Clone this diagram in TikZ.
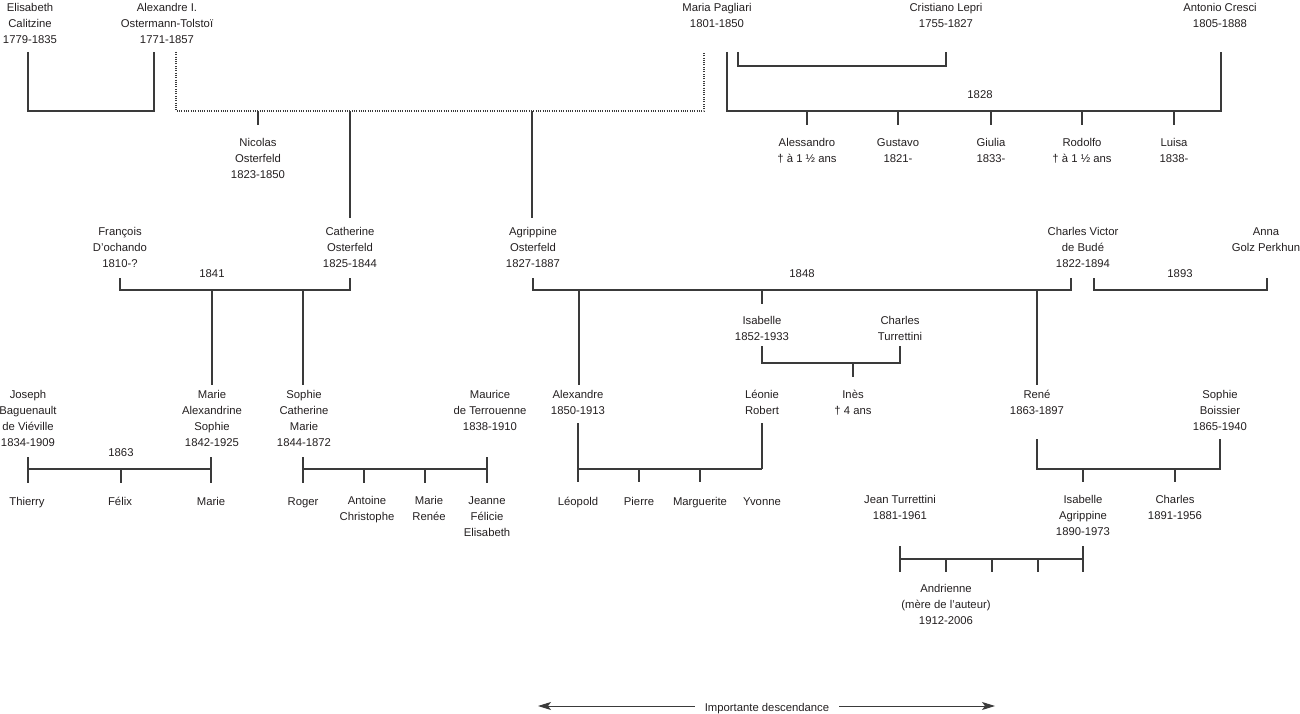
\documentclass[tikz,border=0pt]{standalone}
\usepackage{fontspec}
\setmainfont{Liberation Sans}
\usetikzlibrary{arrows.meta}
\definecolor{txt}{HTML}{231F20}
\definecolor{lnc}{HTML}{3A3A3A}
\begin{document}
\begin{tikzpicture}[x=1pt,y=-1pt,
  lbl/.style={align=center,inner sep=0pt,text=txt,font=\fontsize{11.3}{16}\selectfont,
    execute at begin node=\strut, execute at end node=\strut, yshift=-2.7pt},
  ln/.style={draw=lnc,line width=1.2pt},
  dln/.style={draw=lnc,line width=1.2pt,dash pattern=on 1pt off 1.3pt}]
\useasboundingbox (0,0) rectangle (1300,714);
% ---------- top row
\node[lbl] (elis) at (30,23) {Elisabeth\\Calitzine\\1779-1835};
\node[lbl] (alex) at (167,23) {Alexandre I.\\Ostermann-Tolstoï\\1771-1857};
\node[lbl] (maria) at (717,15) {Maria Pagliari\\1801-1850};
\node[lbl] (lepri) at (946,15) {Cristiano Lepri\\1755-1827};
\node[lbl] (cresci) at (1220,15) {Antonio Cresci\\1805-1888};
\coordinate (eA) at (28,52); \coordinate (eB) at (154,52);
\draw[ln] (eA) -- ++(0,59) -| (eB);
\coordinate (dA) at (176,52); \coordinate (dB) at (704,52);
\draw[dln] (dA) -- ++(0,59) -| (dB);
\coordinate (nicT) at (258,111);
\node[lbl] (nic) at (258,158) {Nicolas\\Osterfeld\\1823-1850};
\draw[ln] (nicT) -- ++(0,14);
\coordinate (lA) at (738,52); \coordinate (lB) at (946,52);
\draw[ln] (lA) -- ++(0,14) -| (lB);
\coordinate (cA) at (727,52); \coordinate (cB) at (1221,52);
\draw[ln] (cA) -- ++(0,59) -| (cB);
\node[lbl] (y1828) at (980,93) {1828};
\node[lbl] (ales) at (807,150) {Alessandro\\† à 1 ½ ans};
\node[lbl] (gust) at (898,150) {Gustavo\\1821-};
\node[lbl] (giul) at (991,150) {Giulia\\1833-};
\node[lbl] (rodo) at (1082,150) {Rodolfo\\† à 1 ½ ans};
\node[lbl] (luisa) at (1174,150) {Luisa\\1838-};
\foreach \x in {807,898,991,1082,1174} \draw[ln] (\x,111) -- (\x,125);
% ---------- second row
\node[lbl] (fran) at (120,247) {François\\D’ochando\\1810-?};
\node[lbl] (cath) at (350,247) {Catherine\\Osterfeld\\1825-1844};
\node[lbl] (agri) at (533,247) {Agrippine\\Osterfeld\\1827-1887};
\node[lbl] (bude) at (1083,247) {Charles Victor\\de Budé\\1822-1894};
\node[lbl] (anna) at (1266,239) {Anna\\Golz Perkhun};
\coordinate (cathT) at (350,111); \coordinate (cathB) at (350,218);
\draw[ln] (cathT) -- (cathB);
\coordinate (agriT) at (532,111); \coordinate (agriB) at (532,218);
\draw[ln] (agriT) -- (agriB);
\node[lbl] (y1841) at (212,272) {1841};
\node[lbl] (y1848) at (802,272) {1848};
\node[lbl] (y1893) at (1180,272) {1893};
\coordinate (fA) at (120,278); \coordinate (fB) at (350,278);
\draw[ln] (fA) -- ++(0,12) -| (fB);
\coordinate (aA) at (533,278); \coordinate (aB) at (1071,278);
\draw[ln] (aA) -- ++(0,12) -| (aB);
\coordinate (bA) at (1094,278); \coordinate (bB) at (1267,278);
\draw[ln] (bA) -- ++(0,12) -| (bB);
\draw[ln] (212,290) -- (212,385);
\draw[ln] (303,290) -- (303,385);
\draw[ln] (579,290) -- (579,385);
\draw[ln] (762,290) -- (762,304);
\draw[ln] (1037,290) -- (1037,385);
\node[lbl] (isab) at (762,328) {Isabelle\\1852-1933};
\node[lbl] (chtu) at (900,328) {Charles\\Turrettini};
\coordinate (iA) at (762,346); \coordinate (iB) at (900,346);
\draw[ln] (iA) -- ++(0,17) -| (iB);
\draw[ln] (853,363) -- (853,377);
\node[lbl] (ines) at (853,402) {Inès\\† 4 ans};
% ---------- third row
\node[lbl] (jose) at (28,418) {Joseph\\Baguenault\\de Viéville\\1834-1909};
\node[lbl] (marA) at (212,418) {Marie\\Alexandrine\\Sophie\\1842-1925};
\node[lbl] (sopC) at (304,418) {Sophie\\Catherine\\Marie\\1844-1872};
\node[lbl] (maur) at (490,410) {Maurice\\de Terrouenne\\1838-1910};
\node[lbl] (alx2) at (578,402) {Alexandre\\1850-1913};
\node[lbl] (leon) at (762,402) {Léonie\\Robert};
\node[lbl] (rene) at (1037,402) {René\\1863-1897};
\node[lbl] (sopB) at (1220,410) {Sophie\\Boissier\\1865-1940};
\node[lbl] (y1863) at (121,451) {1863};
% Joseph - Marie
\draw[ln] (28,457) -- (28,483);
\draw[ln] (211,457) -- (211,483);
\draw[ln] (28,469) -- (211,469);
\draw[ln] (121,469) -- (121,483);
% Sophie - Maurice
\draw[ln] (303,457) -- (303,483);
\draw[ln] (487,457) -- (487,483);
\draw[ln] (303,469) -- (487,469);
\draw[ln] (364,469) -- (364,483);
\draw[ln] (425,469) -- (425,483);
% Alexandre - Leonie
\draw[ln] (578,423) -- (578,482);
\draw[ln] (762,423) -- (762,469);
\draw[ln] (578,469) -- (762,469);
\draw[ln] (639,469) -- (639,482);
\draw[ln] (700,469) -- (700,482);
% Rene - Sophie
\draw[ln] (1037,439) -- (1037,469) -- (1220,469) -- (1220,439);
\draw[ln] (1083,469) -- (1083,482);
\draw[ln] (1175,469) -- (1175,482);
% names
\node[lbl] (thie) at (27,500) {Thierry};
\node[lbl] (feli) at (120,500) {Félix};
\node[lbl] (mari) at (211,500) {Marie};
\node[lbl] (roge) at (303,500) {Roger};
\node[lbl] (anto) at (367,508) {Antoine\\Christophe};
\node[lbl] (mren) at (429,508) {Marie\\Renée};
\node[lbl] (jean) at (487,516) {Jeanne\\Félicie\\Elisabeth};
\node[lbl] (leop) at (578,500) {Léopold};
\node[lbl] (pier) at (639,500) {Pierre};
\node[lbl] (marg) at (700,500) {Marguerite};
\node[lbl] (yvon) at (762,500) {Yvonne};
\node[lbl] (jetu) at (900,507) {Jean Turrettini\\1881-1961};
\node[lbl] (isaA) at (1083,515) {Isabelle\\Agrippine\\1890-1973};
\node[lbl] (char) at (1175,507) {Charles\\1891-1956};
% Jean - Isabelle
\draw[ln] (900,546) -- (900,572);
\draw[ln] (1083,546) -- (1083,572);
\draw[ln] (900,559) -- (1083,559);
\foreach \x in {946,992,1038} \draw[ln] (\x,559) -- (\x,572);
\node[lbl] (andr) at (946,604) {Andrienne\\(mère de l’auteur)\\1912-2006};
% arrow
\node[lbl,inner xsep=10pt] (imp) at (767,706) {Importante descendance};
\coordinate (arL) at (538,706); \coordinate (arR) at (995,706);
\draw[ln,line width=1pt,-{Stealth[length=13pt,width=8pt,inset=3pt]}] (imp.west |- arL) -- (arL);
\draw[ln,line width=1pt,-{Stealth[length=13pt,width=8pt,inset=3pt]}] (imp.east |- arR) -- (arR);
\end{tikzpicture}
\end{document}
